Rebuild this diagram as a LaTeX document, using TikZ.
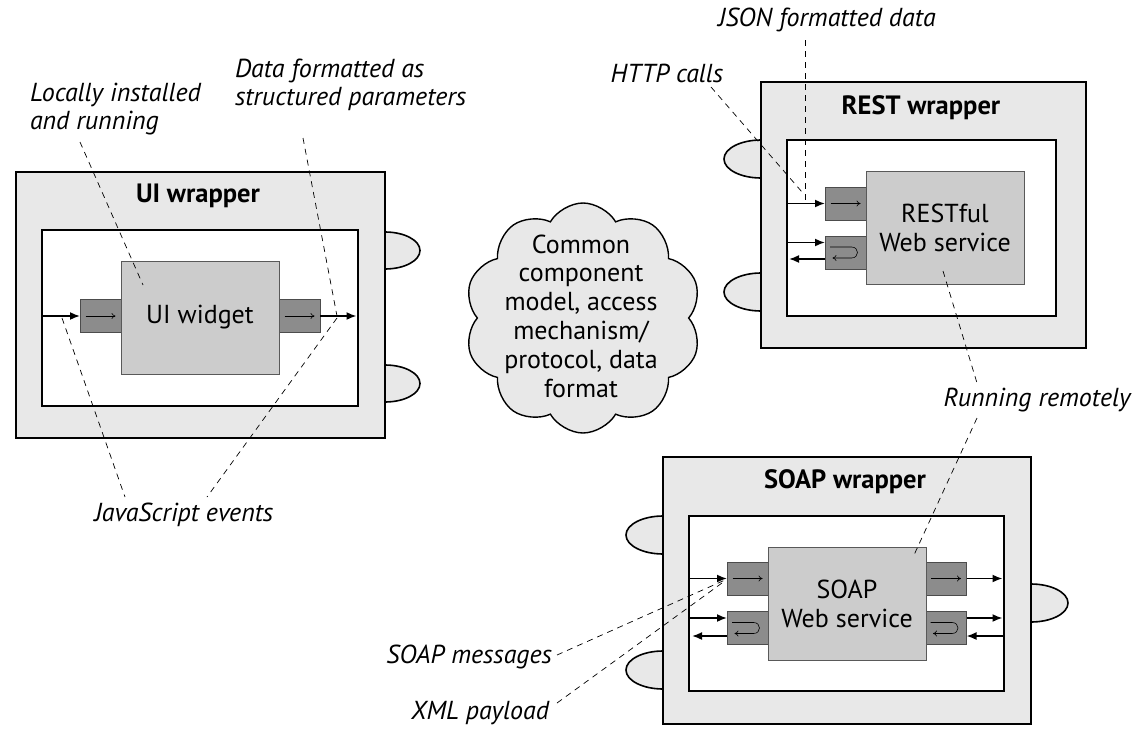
\documentclass[tikz,border=0pt]{standalone}
\usepackage{fontspec}
\setmainfont{PT Sans}
\usetikzlibrary{arrows.meta,shapes.symbols,calc}
\definecolor{wrapgray}{HTML}{E8E8E8}
\definecolor{svcgray}{HTML}{CCCCCC}
\definecolor{portgray}{HTML}{8C8C8C}
\begin{document}
\begin{tikzpicture}[x=1pt,y=-1pt,
  every node/.style={inner sep=0pt,outer sep=0pt},
  outerbox/.style={draw,line width=1.7pt,fill=wrapgray},
  innerbox/.style={draw,line width=1.7pt,fill=white},
  svcbox/.style={draw=black!65,line width=0.8pt,fill=svcgray,font=\fontsize{26}{29}\selectfont,align=center},
  portbox/.style={draw=black!70,line width=0.8pt,fill=portgray,minimum width=41pt,minimum height=33pt},
  bump/.style={draw,line width=1.6pt,fill=wrapgray},
  titletext/.style={font=\bfseries\fontsize{26.5}{31}\selectfont},
  labeltext/.style={font=\itshape\fontsize{26}{28.5}\selectfont},
  bigarr/.style={line width=1.7pt,-{Latex[length=10pt,width=8pt]}},
  thinarr/.style={line width=0.6pt,-{To[length=4pt,width=6pt]}},
  leader/.style={line width=0.7pt,dash pattern=on 6pt off 5pt},
  uturn/.pic={\draw[thinarr] (-15.5,-5.5) -- (6,-5.5) .. controls (14,-5.5) and (14,5.5) .. (6,5.5) -- (-13,5.5);}
]
\useasboundingbox (0,0) rectangle (1138,731);

% ---------- bumps (drawn first, covered by wrappers)
\draw[bump] (385,250.5) ellipse [x radius=35,y radius=18.5];
\draw[bump] (385,383.5) ellipse [x radius=35,y radius=18.5];
\draw[bump] (761,159) ellipse [x radius=37,y radius=19];
\draw[bump] (761,292) ellipse [x radius=37,y radius=19];
\draw[bump] (663,535) ellipse [x radius=37,y radius=19];
\draw[bump] (663,670) ellipse [x radius=37,y radius=19];
\draw[bump] (1031,603) ellipse [x radius=37,y radius=19];

% ---------- UI wrapper
\node[outerbox,minimum width=369pt,minimum height=266pt] (uiouter) at (200.5,305) {};
\node[titletext] (uititle) at (198,196) {UI wrapper};
\node[innerbox,minimum width=316pt,minimum height=176pt] (uiinner) at (200,318) {};
\node[portbox] (uilp) at (100.5,316) {};
\node[portbox] (uirp) at (299.5,316) {};
\node[svcbox,minimum width=158pt,minimum height=113pt] (uiw) at (200,317.5) {UI widget};
\draw[bigarr] (uiinner.west |- uilp) -- (uilp.west);
\draw[bigarr,shorten >=1.5pt] (uirp.east) -- (uiinner.east |- uirp);
\draw[thinarr] ($(uilp.center)+(-15,0)$) -- ($(uilp.center)+(15,0)$);
\draw[thinarr] ($(uirp.center)+(-15,0)$) -- ($(uirp.center)+(15,0)$);

% ---------- REST wrapper
\node[outerbox,minimum width=325pt,minimum height=266pt] (router) at (923.5,215) {};
\node[titletext] (rtitle) at (921,108) {REST wrapper};
\node[innerbox,minimum width=269pt,minimum height=176pt] (rinner) at (921.5,228) {};
\node[portbox] (rp1) at (845.5,203.5) {};
\node[portbox] (rp2) at (845.5,252.5) {};
\node[svcbox,minimum width=158pt,minimum height=113pt] (rsvc) at (945,227.5) {RESTful\\Web service};
\draw[bigarr] (rinner.west |- rp1) -- (rp1.west);
\coordinate (rin2a) at ($(rinner.west |- rp2)+(0,-10)$);
\coordinate (rin2b) at ($(rp2.west)+(0,-10)$);
\coordinate (rout2a) at ($(rp2.west)+(0,6.5)$);
\coordinate (rout2b) at ($(rinner.west |- rp2)+(2,6.5)$);
\draw[bigarr] (rin2a) -- (rin2b);
\draw[bigarr] (rout2a) -- (rout2b);
\draw[thinarr] ($(rp1.center)+(-15,0)$) -- ($(rp1.center)+(15,0)$);
\pic at (rp2.center) {uturn};

% ---------- SOAP wrapper
\node[outerbox,minimum width=368pt,minimum height=267pt] (souter) at (847,590.5) {};
\node[titletext] (stitle) at (845,482) {SOAP wrapper};
\node[innerbox,minimum width=315pt,minimum height=175pt] (sinner) at (846.5,603.5) {};
\node[portbox] (slp1) at (747.5,578.5) {};
\node[portbox] (slp2) at (747.5,628) {};
\node[portbox] (srp1) at (946,578.5) {};
\node[portbox] (srp2) at (946,628) {};
\node[svcbox,minimum width=158pt,minimum height=113pt] (ssvc) at (847,603.5) {SOAP\\Web service};
\draw[bigarr] (sinner.west |- slp1) -- (slp1.west);
\draw[bigarr] ($(sinner.west |- slp2)+(0,-10)$) -- ($(slp2.west)+(0,-10)$);
\draw[bigarr] ($(slp2.west)+(0,8)$) -- ($(sinner.west |- slp2)+(3,8)$);
\draw[bigarr,shorten >=1.5pt] (srp1.east) -- (sinner.east |- srp1);
\draw[bigarr,shorten >=1.5pt] ($(srp2.east)+(0,-10)$) -- ($(sinner.east |- srp2)+(0,-10)$);
\draw[bigarr] ($(sinner.east |- srp2)+(0,8)$) -- ($(srp2.east)+(0,8)$);
\draw[thinarr] ($(slp1.center)+(-15,0)$) -- ($(slp1.center)+(15,0)$);
\draw[thinarr] ($(srp1.center)+(-15,0)$) -- ($(srp1.center)+(15,0)$);
\pic at (slp2.center) {uturn};
\pic at (srp2.center) {uturn};

% ---------- cloud
\node[cloud,cloud puffs=10,cloud puff arc=120,cloud ignores aspect,draw,line width=1.4pt,fill=wrapgray,
      minimum width=237pt,minimum height=230pt] (cloud) at (583,318) {};
\node[align=center,font=\fontsize{26}{28.8}\selectfont] (cloudtext) at (581,316)
  {Common\\component\\model, access\\mechanism/\\protocol, data\\format};

% ---------- labels
\node[labeltext,anchor=west,align=left] (lblocal) at (30,109) {Locally installed\\and running};
\node[labeltext,anchor=west,align=left] (lbdata) at (235,85) {Data formatted as\\structured parameters};
\node[labeltext] (lbjson) at (827,20) {JSON formatted data};
\node[labeltext] (lbhttp) at (667,73) {HTTP calls};
\node[labeltext] (lbremote) at (1037,400) {Running remotely};
\node[labeltext] (lbjs) at (184,515) {JavaScript events};
\node[labeltext,anchor=east] (lbsoap) at (552,657) {SOAP messages};
\node[labeltext,anchor=east] (lbxml) at (549,713) {XML payload};

% ---------- leader lines
\coordinate (l1a) at (80,142);   \coordinate (l1b) at (143,285);
\coordinate (l2a) at (303,138);  \coordinate (l2b) at (337,316);
\coordinate (l3a) at (62,318);   \coordinate (l3b) at (125,497);
\coordinate (l4a) at (337,318);  \coordinate (l4b) at (207,497);
\coordinate (l5a) at (711,87);   \coordinate (l5b) at (802,192);
\coordinate (l6a) at (805,40);   \coordinate (l6b) at (805,202);
\coordinate (l7a) at (943,271);  \coordinate (l7b) at (977,383);
\coordinate (l8a) at (977,418);  \coordinate (l8b) at (914,555);
\coordinate (l9a) at (557,655);  \coordinate (l9b) at (725,580);
\coordinate (l10a) at (557,703); \coordinate (l10b) at (722,583);
\draw[leader] (l1a) -- (l1b);
\draw[leader] (l2a) -- (l2b);
\draw[leader] (l3a) -- (l3b);
\draw[leader] (l4a) -- (l4b);
\draw[leader] (l5a) -- (l5b);
\draw[leader] (l6a) -- (l6b);
\draw[leader] (l7a) -- (l7b);
\draw[leader] (l8a) -- (l8b);
\draw[leader] (l9a) -- (l9b);
\draw[leader] (l10a) -- (l10b);
\end{tikzpicture}
\end{document}
